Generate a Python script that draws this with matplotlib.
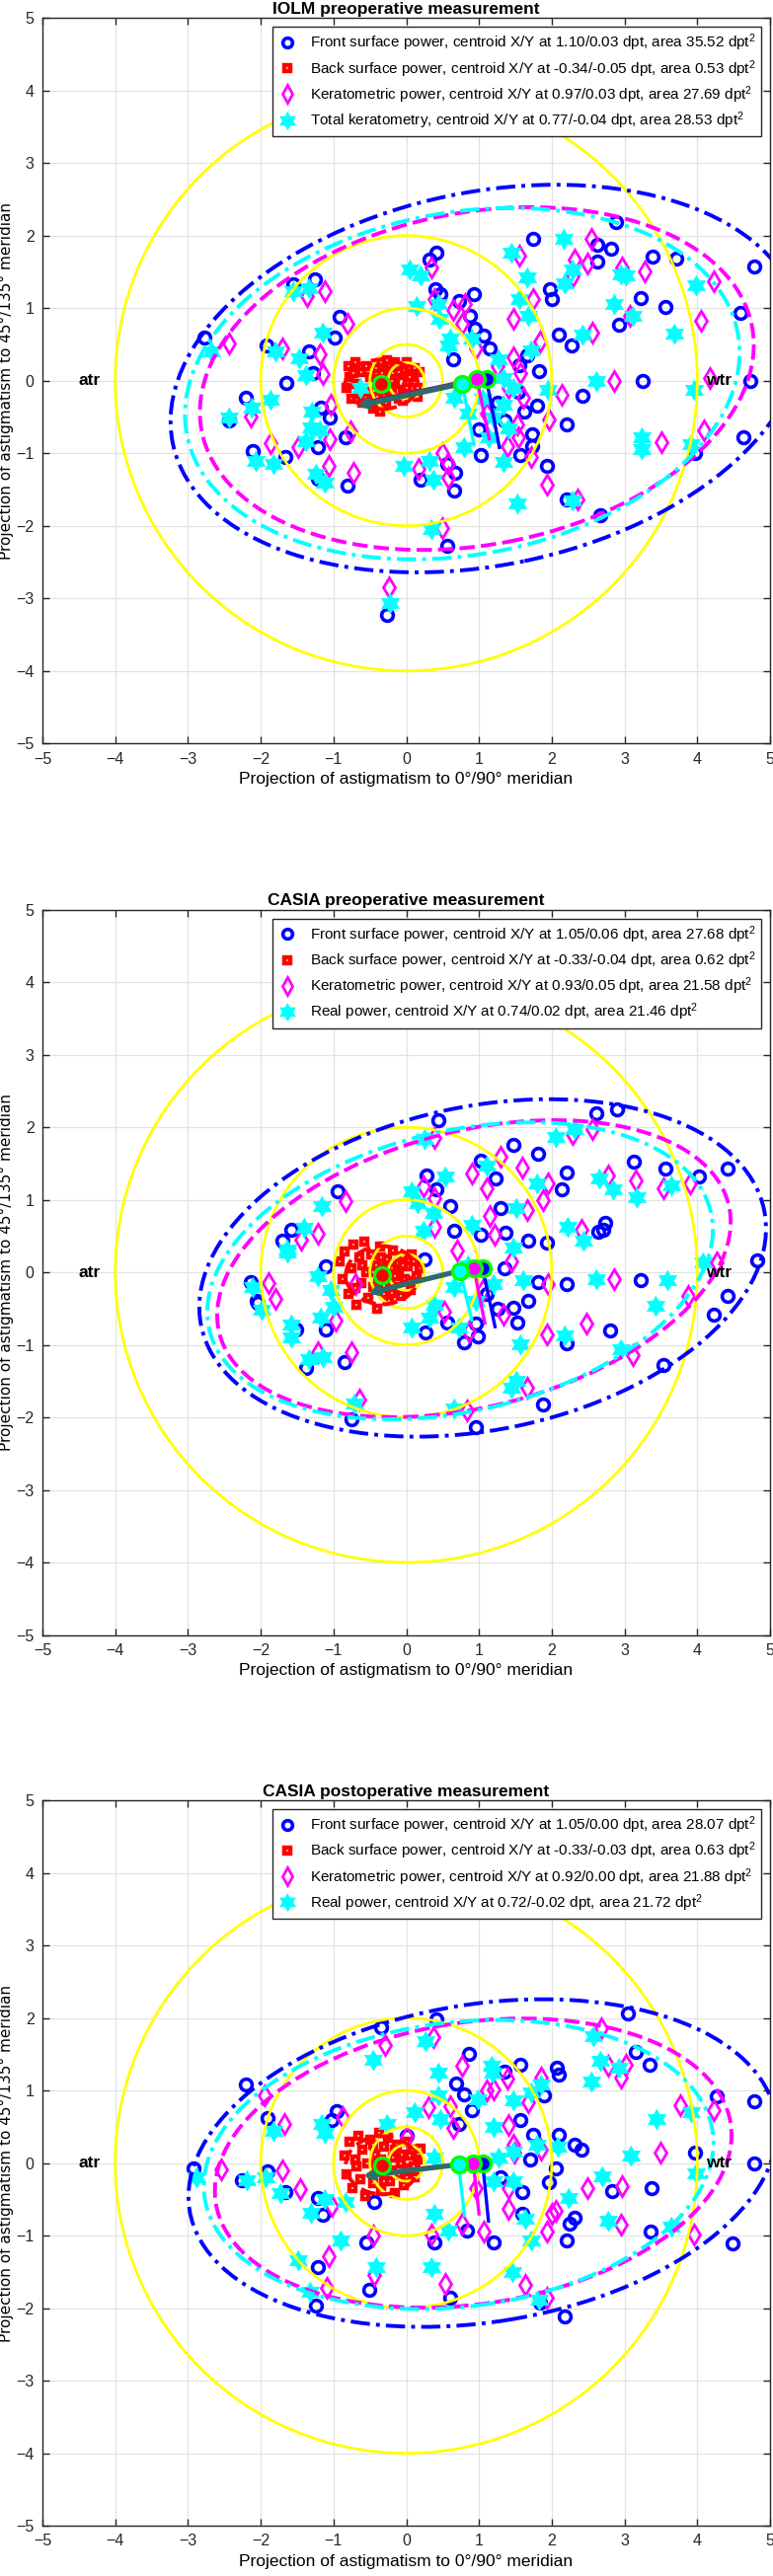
import numpy as np
import matplotlib.pyplot as plt
from matplotlib.patches import Ellipse, Circle
from matplotlib.lines import Line2D
from matplotlib.path import Path

plt.rcParams['font.family'] = ['Liberation Sans', 'DejaVu Sans']
plt.rcParams['mathtext.fontset'] = 'custom'
plt.rcParams['mathtext.rm'] = 'Liberation Sans'
plt.rcParams['mathtext.it'] = 'Liberation Sans'

# ---------------- data ----------------
titles = ["IOLM preoperative measurement",
          "CASIA preoperative measurement",
          "CASIA postoperative measurement"]
series_names = [["Front surface power", "Back surface power", "Keratometric power", "Total keratometry"],
                ["Front surface power", "Back surface power", "Keratometric power", "Real power"],
                ["Front surface power", "Back surface power", "Keratometric power", "Real power"]]

# centroids (x, y) per series: front, back, keratometric, total/real
centroids = [[(1.10, 0.03), (-0.34, -0.05), (0.97, 0.03), (0.77, -0.04)],
             [(1.05, 0.06), (-0.33, -0.04), (0.93, 0.05), (0.74, 0.02)],
             [(1.05, 0.00), (-0.33, -0.03), (0.92, 0.00), (0.72, -0.02)]]
areas = [[35.52, 0.53, 27.69, 28.53],
         [27.68, 0.62, 21.58, 21.46],
         [28.07, 0.63, 21.88, 21.72]]

# ellipse semi axes a, b and tilt (deg)
ell_a = [[4.40, 0.50, 3.85, 3.85], [3.95, 0.50, 3.61, 3.54], [4.08, 0.50, 3.58, 3.52]]
ell_b = [[2.57, 0.34, 2.29, 2.36], [2.23, 0.40, 1.90, 1.93], [2.19, 0.40, 1.94, 1.96]]
ell_ang = [[11.8, 0, 10.8, 10.3], [11.7, 0, 14.4, 13.3], [9.2, 0, 8.8, 7.0]]

# end points of the axis lines drawn from the centroids (front, kera, total)
axis_end = [[(1.28, -0.92), (1.14, -0.80), (0.93, -0.88)],
            [(1.22, -0.75), (1.08, -0.70), (0.90, -0.66)],
            [(1.13, -0.80), (1.00, -0.70), (0.80, -0.72)]]
# arrow tip (from total centroid) and purple line end (from kera centroid)
arrow_tip = [(-0.68, -0.35), (-0.53, -0.29), (-0.60, -0.18)]
purple_end = [(-0.50, -0.28), (-0.40, -0.24), (-0.45, -0.14)]

ring_radii = [0.25, 0.5, 1, 2, 4]

p1_front = np.array([
    [-2.77, 0.59], [-1.92, 0.48], [-2.21, -0.24], [-2.44, -0.55], [-1.65, -0.03], [-1.34, 0.41], [-1.28, 0.10],
    [-1.55, 1.33], [-1.26, 1.40], [-0.92, 0.88], [-0.99, 0.60], [-1.17, -0.37], [-1.05, -0.51], [-0.83, -0.78],
    [0.32, 1.67], [0.42, 1.76], [0.40, 1.26], [0.47, 1.19], [0.73, 1.10], [0.93, 1.19], [0.88, 0.89], [0.94, 0.72],
    [1.07, 0.62], [1.74, 1.95], [1.97, 1.26], [2.00, 1.12], [2.10, 0.63], [2.27, 0.48], [1.66, 0.35], [1.56, 0.22],
    [1.82, 0.13], [1.54, -0.15], [1.62, -0.42], [1.80, -0.34], [2.42, -0.21], [2.20, -0.60], [2.63, 1.87],
    [2.81, 1.82], [2.88, 2.19], [2.63, 1.64], [3.39, 1.71], [3.71, 1.69], [3.22, 1.14], [3.56, 1.02], [2.92, 0.77],
    [3.25, 0.00], [4.59, 0.94], [4.78, 1.57], [4.73, 0.00], [4.63, -0.78], [1.00, -0.67], [-2.11, -0.97],
    [-1.66, -1.05], [-1.21, -0.92], [-1.21, -1.35], [-0.81, -1.45], [0.20, -1.36], [0.66, -1.51], [0.67, -1.27],
    [0.56, -1.15], [1.03, -1.02], [1.57, -1.02], [1.73, -0.90], [1.93, -1.17], [2.20, -1.63], [2.66, -1.86],
    [3.97, -1.00], [0.56, -2.28], [-0.26, -3.23], [1.73, -0.74], [1.25, -0.30], [1.35, -0.55], [1.15, 0.45],
    [0.65, 0.30]])
p1_back = np.array([
    [-0.80, 0.20], [-0.78, 0.05], [-0.82, -0.10], [-0.75, -0.25], [-0.70, 0.25], [-0.68, -0.05], [-0.62, 0.12],
    [-0.60, -0.30], [-0.55, 0.20], [-0.52, -0.15], [-0.50, 0.05], [-0.45, -0.38], [-0.42, 0.18], [-0.40, -0.22],
    [-0.38, 0.02], [-0.35, 0.25], [-0.32, -0.10], [-0.30, 0.15], [-0.28, -0.30], [-0.25, 0.05], [-0.22, 0.22],
    [-0.20, -0.18], [-0.18, 0.10], [-0.15, -0.05], [-0.12, 0.20], [-0.10, -0.25], [-0.08, 0.08], [-0.05, -0.12],
    [-0.02, 0.15], [0.02, -0.02], [0.05, 0.18], [0.08, -0.20], [0.10, 0.05], [0.15, -0.10], [0.18, 0.12],
    [-0.65, -0.18], [-0.72, 0.10], [-0.48, -0.28], [-0.36, -0.42], [-0.26, 0.28], [-0.30, -0.20], [-0.20, 0.00],
    [-0.10, 0.12], [0.00, -0.10], [0.12, 0.18], [0.05, 0.05], [-0.15, 0.25], [-0.05, -0.28], [0.15, -0.22],
    [-0.25, -0.12], [0.00, 0.25], [-0.33, 0.10]])
p1_kera = np.array([
    [-2.44, 0.51], [-2.14, -0.49], [-1.70, 0.44], [-1.36, 1.17], [-1.12, 1.24], [-1.19, 0.36], [-1.14, 0.09],
    [-0.81, 0.78], [-1.04, -0.33], [-0.77, -0.70], [0.35, 1.56], [0.39, 1.12], [0.64, 0.97], [0.81, 1.06],
    [0.76, 0.78], [1.47, 0.85], [1.56, 1.72], [1.74, 1.12], [1.84, 0.54], [2.31, 1.67], [2.49, 1.62], [2.54, 1.96],
    [2.29, 1.44], [2.96, 1.56], [3.27, 1.51], [2.56, 0.67], [2.86, 0.00], [2.14, -0.19], [1.96, -0.53],
    [3.07, 0.90], [4.05, 0.83], [4.22, 1.37], [4.17, 0.04], [1.47, 0.33], [1.57, 0.10], [1.40, -0.10],
    [1.61, -0.24], [1.53, -0.60], [3.51, -0.85], [-1.87, -0.86], [-1.48, -0.92], [-1.07, -1.18], [-0.73, -1.27],
    [-1.05, -0.80], [0.17, -1.21], [0.49, -0.99], [0.57, -1.14], [0.58, -1.33], [1.39, -0.90], [1.54, -0.78],
    [1.71, -1.05], [1.93, -1.43], [2.35, -1.63], [4.09, -0.68], [0.49, -2.03], [-0.24, -2.85], [1.10, -0.45],
    [1.25, 0.20], [0.95, 0.45]])
p1_total = np.array([
    [-2.68, 0.40], [-2.44, -0.50], [-2.12, -0.37], [-1.87, -0.26], [-1.80, 0.40], [-1.56, 1.24], [-1.34, 1.28],
    [-1.47, 0.31], [-1.14, 0.67], [-1.38, 0.08], [-1.29, -0.42], [-1.31, -0.64], [-0.63, -0.10], [0.05, 1.53],
    [0.20, 1.45], [0.14, 1.03], [0.44, 1.06], [0.45, 0.85], [0.61, 0.58], [0.58, 0.49], [0.90, 0.58], [1.45, 1.76],
    [1.66, 1.42], [1.56, 1.12], [1.68, 0.90], [1.71, 0.42], [2.17, 1.95], [2.29, 1.54], [2.18, 1.35], [2.86, 1.06],
    [2.95, 1.46], [3.02, 1.45], [3.11, 0.90], [2.42, 0.63], [2.61, 0.00], [1.95, -0.12], [1.27, 0.29], [1.34, 0.04],
    [1.47, -0.10], [1.34, -0.33], [1.20, -0.51], [0.66, -0.24], [3.68, 0.65], [3.98, 1.31], [3.95, -0.12],
    [3.24, -0.78], [-2.07, -1.10], [-1.83, -1.15], [-1.24, -1.28], [-1.12, -1.41], [-1.38, -0.83], [-1.19, -0.69],
    [-0.03, -1.17], [0.32, -1.10], [0.37, -1.36], [0.35, -2.05], [-0.22, -3.06], [1.53, -1.69], [2.29, -1.65],
    [3.24, -0.94], [3.91, -0.87], [0.79, -0.92], [1.13, -0.78], [1.40, -0.65], [1.34, -1.12], [0.85, -0.45],
    [1.05, -0.25]])

p2_front = np.array([
    [0.44, 2.10], [2.61, 2.19], [2.90, 2.25], [1.47, 1.76], [1.81, 1.64], [1.03, 1.54], [1.23, 1.29], [2.20, 1.38],
    [2.14, 1.14], [3.13, 1.53], [3.56, 1.43], [4.42, 1.43], [4.02, 1.32], [0.28, 1.33], [0.42, 1.15], [-0.94, 1.11],
    [0.60, 0.91], [1.29, 0.88], [-1.58, 0.58], [-1.70, 0.43], [2.73, 0.68], [2.71, 0.58], [2.64, 0.56], [1.37, 0.55],
    [1.68, 0.43], [1.93, 0.41], [0.66, 0.57], [1.03, 0.52], [4.83, 0.17], [-1.11, 0.08], [1.35, 0.05], [3.22, -0.11],
    [2.20, -0.16], [1.81, -0.14], [-2.14, -0.14], [-2.06, -0.39], [4.41, -0.32], [1.68, -0.40], [0.25, 0.18],
    [4.22, -0.59], [2.80, -0.80], [2.20, -0.98], [1.53, -0.69], [1.47, -0.49], [0.96, -0.70], [0.99, -0.89],
    [0.79, -0.97], [0.56, -0.69], [0.26, -0.83], [-1.11, -0.79], [-1.51, -0.79], [-1.38, -1.32], [-0.85, -1.24],
    [-2.04, -0.42], [1.88, -1.82], [-0.75, -2.02], [0.95, -2.14], [3.54, -1.28], [1.10, -0.30], [1.25, -0.50]])
p2_back = np.array([
    [-0.92, 0.15], [-0.88, -0.10], [-0.85, 0.28], [-0.80, -0.30], [-0.75, 0.05], [-0.72, 0.38], [-0.68, -0.45],
    [-0.65, 0.20], [-0.62, -0.15], [-0.58, 0.42], [-0.55, 0.00], [-0.52, -0.35], [-0.48, 0.25], [-0.45, -0.20],
    [-0.42, 0.10], [-0.40, -0.50], [-0.36, 0.35], [-0.33, -0.05], [-0.30, -0.30], [-0.27, 0.18], [-0.24, -0.40],
    [-0.20, 0.05], [-0.18, 0.30], [-0.15, -0.20], [-0.12, 0.12], [-0.08, -0.32], [-0.05, 0.22], [-0.02, -0.10],
    [0.02, 0.08], [0.06, -0.25], [0.10, 0.15], [0.14, -0.05], [0.18, 0.05], [-0.60, 0.10], [-0.70, -0.22],
    [-0.38, -0.15], [-0.22, -0.12], [-0.10, 0.00], [-0.28, 0.05], [-0.15, -0.05], [0.05, -0.12], [-0.05, 0.10],
    [-0.35, 0.20], [0.08, 0.25], [-0.20, -0.28], [-0.45, 0.00]])
p2_kera = np.array([
    [0.39, 1.85], [2.56, 1.98], [2.29, 1.90], [1.30, 1.59], [1.59, 1.44], [0.90, 1.36], [1.10, 1.16], [1.95, 1.22],
    [1.88, 1.00], [2.77, 1.34], [3.15, 1.27], [3.54, 1.16], [3.90, 1.22], [0.24, 1.18], [0.39, 1.02], [-0.83, 0.98],
    [0.39, 0.63], [1.15, 0.77], [1.22, 0.52], [1.66, 0.86], [2.41, 0.59], [-1.22, 0.53], [-1.45, 0.45], [4.27, 0.14],
    [2.85, -0.10], [1.95, -0.16], [-1.89, -0.15], [-1.80, -0.37], [-0.70, -0.16], [-0.97, -0.67], [1.93, -0.85],
    [2.48, -0.70], [1.34, -0.58], [0.86, -0.81], [0.52, -0.54], [-0.75, -1.10], [-1.21, -1.10], [-0.64, -1.76],
    [0.83, -1.90], [1.66, -1.59], [3.12, -1.14], [3.88, -0.33], [1.05, -0.25], [0.70, 0.30], [1.45, 0.15]])
p2_total = np.array([
    [0.25, 1.84], [2.05, 1.86], [2.32, 1.97], [0.54, 1.32], [1.10, 1.47], [1.80, 1.22], [2.65, 1.30], [2.84, 1.14],
    [3.17, 1.03], [3.64, 1.20], [0.08, 1.11], [0.15, 0.95], [-1.16, 0.91], [-1.41, 0.62], [-1.63, 0.32],
    [-1.63, 0.27], [0.37, 0.82], [0.24, 0.57], [0.90, 0.66], [1.51, 0.88], [2.22, 0.63], [2.44, 0.43], [1.47, 0.34],
    [4.08, 0.14], [2.61, -0.09], [3.59, -0.11], [-1.21, -0.05], [-2.11, -0.20], [-1.04, -0.24], [1.61, -0.11],
    [1.20, -0.16], [0.66, -0.20], [-1.99, -0.51], [-1.58, -0.72], [-1.58, -0.90], [-1.17, -0.63], [-1.00, -0.47],
    [0.08, -0.76], [0.39, -0.45], [0.32, -0.63], [0.73, -0.76], [1.57, -0.99], [2.18, -0.87], [3.43, -0.46],
    [2.95, -1.06], [-1.34, -1.19], [-1.14, -1.17], [1.51, -1.49], [1.44, -1.59], [-0.71, -1.81], [0.66, -1.87],
    [0.95, -0.40], [0.85, 0.10]])

p3_front = np.array([
    [-2.21, 1.09], [-0.34, 1.87], [0.42, 1.98], [3.05, 2.06], [0.86, 1.51], [1.57, 1.35], [2.07, 1.32], [2.10, 1.22],
    [1.89, 0.94], [1.35, 1.26], [3.15, 1.53], [3.35, 1.36], [4.27, 0.92], [4.78, 0.85], [0.68, 1.10], [0.80, 0.95],
    [0.90, 0.73], [0.73, 0.54], [-0.96, 0.71], [-1.02, 0.59], [-1.90, 0.62], [1.57, 0.59], [2.10, 0.39],
    [2.32, 0.25], [2.41, 0.18], [1.74, 0.39], [3.97, 0.14], [4.78, 0.00], [0.00, 0.38], [-2.92, -0.07],
    [-1.91, -0.12], [-2.26, -0.24], [-1.66, -0.40], [-1.21, -0.48], [-1.14, -0.71], [-0.44, -0.54], [1.96, -0.27],
    [1.60, -0.40], [1.59, -0.70], [2.83, -0.39], [3.37, -0.35], [2.32, -0.75], [2.25, -0.83], [2.20, -1.07],
    [3.36, -0.95], [4.48, -1.11], [1.20, -1.09], [0.39, -1.10], [-0.55, -1.10], [-1.22, -1.44], [-0.51, -1.75],
    [-1.24, -1.96], [0.61, -1.86], [1.84, -1.93], [2.18, -2.12], [0.83, -0.93], [2.05, -0.07], [1.30, -0.20],
    [1.70, 0.05]])
p3_back = np.array([
    [-0.85, 0.10], [-0.82, -0.15], [-0.78, 0.30], [-0.74, -0.35], [-0.70, 0.05], [-0.66, 0.38], [-0.63, -0.22],
    [-0.60, 0.18], [-0.56, -0.45], [-0.53, 0.00], [-0.50, 0.32], [-0.46, -0.28], [-0.43, 0.12], [-0.40, -0.12],
    [-0.37, 0.42], [-0.34, -0.38], [-0.31, 0.22], [-0.28, -0.05], [-0.25, 0.35], [-0.22, -0.25], [-0.19, 0.08],
    [-0.16, -0.42], [-0.13, 0.25], [-0.10, -0.15], [-0.06, 0.12], [-0.03, -0.30], [0.01, 0.30], [0.04, -0.08],
    [0.08, 0.18], [0.12, -0.20], [0.16, 0.05], [0.20, 0.20], [-0.68, -0.05], [-0.45, 0.25], [-0.35, 0.05],
    [-0.20, -0.10], [-0.08, 0.00], [0.05, 0.10], [-0.30, -0.25], [0.10, -0.05], [-0.15, 0.18], [-0.40, 0.02],
    [0.00, -0.20]])
p3_kera = np.array([
    [-0.29, 1.63], [0.37, 1.74], [2.68, 1.86], [0.76, 1.34], [1.20, 1.02], [1.39, 1.16], [1.68, 0.84], [1.85, 1.18],
    [2.77, 1.34], [3.02, 1.36], [2.95, 1.18], [3.77, 0.80], [4.22, 0.73], [0.31, 0.77], [0.61, 0.79], [0.64, 0.48],
    [1.10, 1.00], [1.40, 0.52], [1.47, 0.25], [1.85, 0.18], [-1.68, 0.54], [-0.87, 0.63], [-1.95, 0.93],
    [3.49, 0.14], [0.01, 0.36], [-2.54, -0.09], [-1.70, -0.10], [-1.46, -0.36], [2.49, -0.34], [2.96, -0.32],
    [2.95, -0.85], [2.00, -0.70], [2.05, -0.66], [1.93, -0.95], [1.40, -0.63], [1.07, -0.95], [0.76, -0.84],
    [0.34, -0.98], [-0.46, -1.00], [-1.07, -1.28], [-0.44, -1.54], [0.54, -1.66], [1.63, -1.68], [1.93, -1.86],
    [-1.09, -1.72], [3.95, -0.98], [-1.02, -0.59], [1.40, -0.34], [1.49, 0.15], [0.95, -0.35]])
p3_total = np.array([
    [0.26, 1.68], [2.57, 1.75], [-0.46, 1.43], [1.18, 1.34], [1.19, 1.25], [0.44, 1.24], [2.66, 1.41], [2.54, 1.13],
    [2.92, 1.32], [1.85, 1.09], [1.71, 0.98], [3.44, 0.61], [3.91, 0.70], [-1.16, 0.54], [-1.12, 0.41],
    [-1.83, 0.45], [-0.27, 0.54], [0.12, 0.70], [0.47, 0.61], [0.44, 0.93], [0.98, 0.88], [1.20, 0.50], [1.47, 0.86],
    [1.80, 0.25], [2.08, 0.23], [1.47, 0.16], [3.09, 0.11], [0.39, 0.07], [1.27, 0.07], [-2.88, -0.20],
    [-2.19, -0.23], [-1.93, -0.20], [-1.73, -0.42], [-1.31, -0.68], [-1.12, -0.50], [-0.83, -0.54], [-0.90, -1.07],
    [-1.49, -1.34], [-0.41, -1.43], [0.35, -1.44], [0.39, -0.70], [0.58, -0.93], [1.47, -0.25], [1.64, -0.77],
    [1.71, -1.07], [2.69, -0.18], [2.23, -0.48], [2.77, -0.79], [3.64, -0.88], [3.98, -0.14], [1.46, -1.50],
    [-1.32, -1.78], [1.82, -1.88], [1.20, -0.25]])

panels = [[p1_front, p1_back, p1_kera, p1_total],
          [p2_front, p2_back, p2_kera, p2_total],
          [p3_front, p3_back, p3_kera, p3_total]]

# ---------------- styling ----------------
colors = ['#0000FF', '#FF0000', '#FF00FF', '#00FFFF']
ang = np.deg2rad(np.arange(12) * 30 + 90)
rad = np.where(np.arange(12) % 2 == 0, 1.0, 0.577)
hexagram = Path(np.column_stack([rad * np.cos(ang), rad * np.sin(ang)]))
marker_kw = [dict(marker='o', ms=8.5, mfc='none', mec=colors[0], mew=2.6),
             dict(marker='s', ms=5.0, mfc='white', mec=colors[1], mew=3.2),
             dict(marker='d', ms=10, mfc='none', mec=colors[2], mew=2.0),
             dict(marker=hexagram, ms=15, mfc=colors[3], mec=colors[3], mew=0.5)]
legend_ms = [7, 5, 9, 13]
ell_ls = [(0, (5, 1.6, 1, 1.6)), (0, (4, 2)), (0, (4, 1.6)), (0, (5, 1.6, 1, 1.6))]

fig = plt.figure(figsize=(7.83, 26.1), dpi=100)
bottoms = [0.7114, 0.3653, 0.0195]

for k in range(3):
    ax = fig.add_axes([0.0549, bottoms[k], 0.9413, 0.2816])
    ax.set_xlim(-5, 5)
    ax.set_ylim(-5, 5)
    ax.set_xticks(range(-5, 6))
    ax.set_yticks(range(-5, 6))
    ax.grid(True, color='#E3E3E3', lw=0.9, zorder=0)
    ax.set_axisbelow(True)
    ax.tick_params(direction='in', top=True, right=True, length=5, width=1,
                   colors='#262626', labelsize=11.5, pad=6)
    for sp in ax.spines.values():
        sp.set_color('#262626')
        sp.set_linewidth(1.0)

    handles = []
    for i, pts in enumerate(panels[k]):
        ax.plot(pts[:, 0], pts[:, 1], ls='none', zorder=2 + i * 0.1, **marker_kw[i])
        cx, cy = centroids[k][i]
        lab = (f"{series_names[k][i]}, centroid X/Y at {cx:.2f}/{cy:.2f} dpt, "
               f"area {areas[k][i]:.2f} dpt$^2$")
        kw = dict(marker_kw[i])
        kw['ms'] = legend_ms[i]
        handles.append(Line2D([], [], ls='none', label=lab, **kw))

    for r in ring_radii:
        ax.add_patch(Circle((0, 0), r, fill=False, ec='#FFFF00', lw=2.0, zorder=3))

    for i in range(4):
        ax.add_patch(Ellipse(centroids[k][i], 2 * ell_a[k][i], 2 * ell_b[k][i], angle=ell_ang[k][i],
                             fill=False, ec=colors[i], lw=2.8, ls=ell_ls[i], zorder=4))

    # lines from centroids
    ax.plot([centroids[k][2][0], purple_end[k][0]], [centroids[k][2][1], purple_end[k][1]],
            color='#7A1F7A', lw=2.2, zorder=5)
    ax.annotate('', xy=arrow_tip[k], xytext=centroids[k][3],
                arrowprops=dict(arrowstyle='-|>', color='#2F6B6B', lw=3.8,
                                mutation_scale=12, shrinkA=0, shrinkB=0), zorder=5)
    for j, ci in enumerate([0, 2, 3]):
        ax.plot([centroids[k][ci][0], axis_end[k][j][0]], [centroids[k][ci][1], axis_end[k][j][1]],
                color=colors[ci], lw=2.4, zorder=5)

    for i in [1, 0, 2, 3]:
        ax.plot(*centroids[k][i], marker='o', ms=11.5, mfc=colors[i], mec='#00FF00', mew=2.4, zorder=6)

    ax.text(-4.35, 0, 'atr', fontsize=12.5, fontweight='bold', ha='center', va='center', zorder=7)
    ax.text(4.3, 0, 'wtr', fontsize=12.5, fontweight='bold', ha='center', va='center', zorder=7)

    ax.set_title(titles[k], fontsize=12.5, fontweight='bold', pad=3)
    ax.set_xlabel("Projection of astigmatism to 0°/90° meridian", fontsize=12.5, labelpad=4)
    ax.set_ylabel("Projection of astigmatism to 45°/135° meridian", fontsize=11,
                  family='DejaVu Sans', labelpad=2)

    leg = ax.legend(handles=handles, loc='upper right', fontsize=11, frameon=True, fancybox=False,
                    framealpha=1, edgecolor='#262626', borderaxespad=0.6, handlelength=1.2,
                    handletextpad=0.9, labelspacing=0.3, borderpad=0.35)
    leg.get_frame().set_linewidth(1.0)
    leg.set_zorder(10)

fig.savefig('out.png', dpi=100)
